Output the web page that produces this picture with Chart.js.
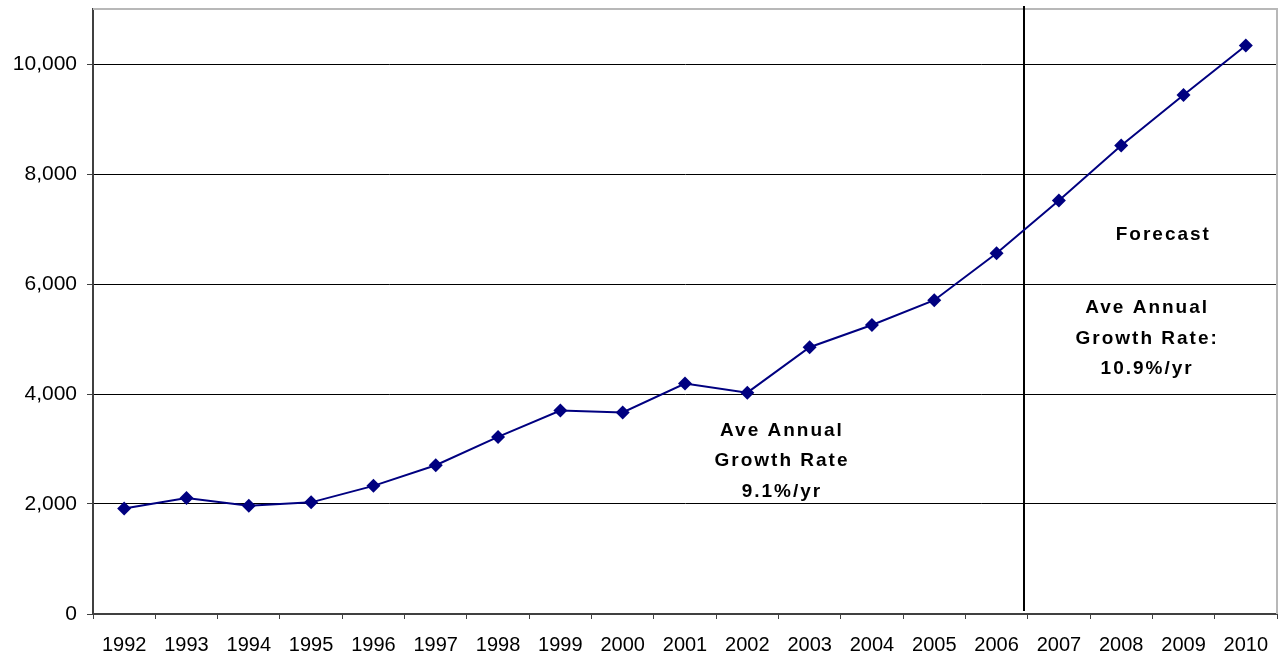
<!DOCTYPE html>
<html>
<head>
<meta charset="utf-8">
<script src="https://cdn.jsdelivr.net/npm/chart.js@4/dist/chart.umd.min.js"></script>
<style>
  html, body { margin: 0; padding: 0; background: #fff; }
  #wrap { width: 1278px; height: 656px; position: relative; }
</style>
</head>
<body>
<div id="wrap"><canvas id="chart"></canvas></div>
<script>
// data
const years = ['1992', '1993', '1994', '1995', '1996', '1997', '1998', '1999', '2000', '2001',
  '2002', '2003', '2004', '2005', '2006', '2007', '2008', '2009', '2010'];
const values = [1920, 2110, 1970, 2030, 2330, 2705, 3220, 3700, 3665, 4190,
  4025, 4850, 5255, 5705, 6560, 7520, 8520, 9435, 10335];
const yTicks = [0, 2000, 4000, 6000, 8000, 10000];

// history / forecast split sits just before the 2006|2007 boundary
const forecastSplit = 14.44;

const histNote = ['Ave Annual', 'Growth Rate', '9.1%/yr'];
const forecastTitle = 'Forecast';
const forecastNote = ['Ave Annual', 'Growth Rate:', '10.9%/yr'];

const FONT = '"Liberation Sans", Arial, sans-serif';
const navy = '#000080';
const axisGray = '#404040';

const frameAndNotes = {
  id: 'frameAndNotes',
  beforeDatasetsDraw(chart) {
    const { ctx, chartArea, scales } = chart;
    ctx.save();
    // light frame on top and right
    ctx.strokeStyle = '#b8b8b8';
    ctx.lineWidth = 2;
    ctx.beginPath();
    ctx.moveTo(chartArea.left, chartArea.top);
    ctx.lineTo(chartArea.right, chartArea.top);
    ctx.lineTo(chartArea.right, chartArea.bottom);
    ctx.stroke();
    // forecast divider
    const x = scales.x.getPixelForValue(forecastSplit);
    ctx.strokeStyle = '#000';
    ctx.lineWidth = 2;
    ctx.beginPath();
    ctx.moveTo(x, chartArea.top - 3);
    ctx.lineTo(x, scales.y.getPixelForValue(0) - 3);
    ctx.stroke();
    ctx.restore();
  },
  afterDraw(chart) {
    const { ctx, scales } = chart;
    ctx.save();
    ctx.fillStyle = '#000';
    ctx.font = 'bold 19px ' + FONT;
    ctx.textAlign = 'center';
    ctx.textBaseline = 'middle';
    if ('letterSpacing' in ctx) ctx.letterSpacing = '2px';
    const put = (text, xv, yv) => {
      ctx.fillText(text, scales.x.getPixelForValue(xv) + 1, scales.y.getPixelForValue(yv));
    };
    const histY = [3330, 2780, 2230];
    histNote.forEach((t, i) => put(t, 10.54, histY[i]));
    put(forecastTitle, 16.66, 6890);
    const fcY = [5560, 5000, 4450];
    forecastNote.forEach((t, i) => put(t, 16.4, fcY[i]));
    ctx.restore();
  }
};

const ctx = document.getElementById('chart').getContext('2d');
new Chart(ctx, {
  type: 'line',
  data: {
    labels: years,
    datasets: [{
      label: 'Demand',
      data: values,
      borderColor: navy,
      backgroundColor: navy,
      borderWidth: 2,
      pointStyle: 'rectRot',
      pointRadius: 7,
      pointHoverRadius: 7,
      pointBorderWidth: 0,
      tension: 0,
    }],
  },
  options: {
    animation: false,
    responsive: true,
    maintainAspectRatio: false,
    layout: { autoPadding: false, padding: { top: 9, right: 1, left: 0, bottom: 0 } },
    plugins: {
      legend: { display: false },
      tooltip: { enabled: false },
      title: { display: false },
    },
    scales: {
      x: {
        type: 'category',
        offset: true,
        grid: {
          display: true,
          drawOnChartArea: false,
          drawTicks: true,
          tickLength: 5,
          offset: true,
          tickColor: axisGray,
          tickWidth: 1,
        },
        border: { display: true, color: axisGray, width: 2 },
        ticks: {
          color: '#000',
          font: { family: FONT, size: 20 },
          padding: 14,
          maxRotation: 0,
          autoSkip: false,
        },
        afterFit(scale) {
          scale.height = 42;
          scale.paddingLeft = 0;
          scale.paddingRight = 0;
        },
      },
      y: {
        min: 0,
        max: 11000,
        afterBuildTicks(scale) {
          scale.ticks = yTicks.map((v) => ({ value: v }));
        },
        grid: {
          color: '#000',
          lineWidth: 1,
          drawTicks: true,
          tickLength: 6,
          tickColor: axisGray,
        },
        border: { display: true, color: axisGray, width: 2 },
        ticks: {
          color: '#000',
          font: { family: FONT, size: 21 },
          padding: 10,
          callback: (v) => Number(v).toLocaleString('en-US'),
        },
        afterFit(scale) {
          scale.width = 93;
          scale.paddingTop = 0;
          scale.paddingBottom = 0;
        },
      },
    },
  },
  plugins: [frameAndNotes],
});
</script>
</body>
</html>
